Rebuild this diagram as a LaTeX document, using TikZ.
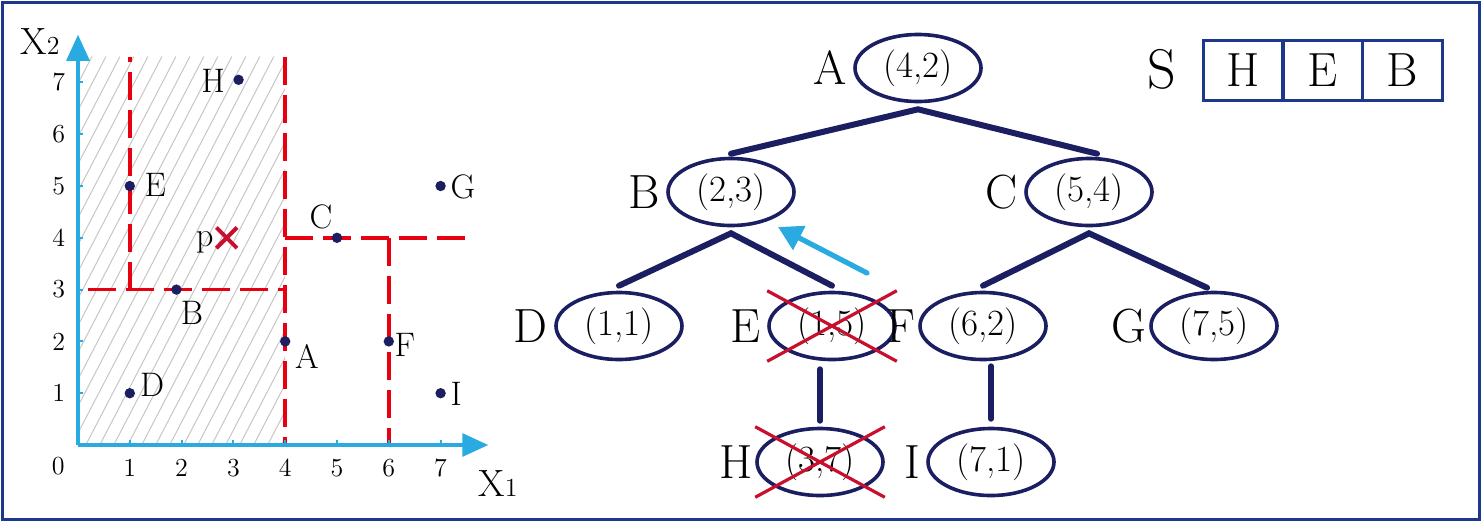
\documentclass[tikz,border=0pt]{standalone}
\usetikzlibrary{shapes.geometric,arrows.meta,calc}
\definecolor{navy}{RGB}{27,30,96}
\definecolor{frameblue}{RGB}{28,55,140}
\definecolor{axcyan}{RGB}{41,171,226}
\definecolor{dashred}{RGB}{230,0,18}
\definecolor{crossred}{RGB}{200,16,46}
\tikzset{
  coordnode/.style={ellipse, draw=navy, line width=1.8pt, minimum width=63pt, minimum height=33.5pt, inner sep=0pt, font=\fontsize{18.5}{18.5}\selectfont},
  treelbl/.style={font=\fontsize{24}{24}\selectfont, inner sep=0pt},
  edge/.style={navy, line width=3pt, line cap=round, line join=miter},
  crossline/.style={crossred, line width=1.6pt},
  reddash/.style={dashred, line width=1.8pt, dash pattern=on 14pt off 5pt},
  axisline/.style={axcyan, line width=1.6pt, -{Triangle[length=13pt,width=11.5pt]}},
  tickline/.style={axcyan, line width=1pt},
  ticklbl/.style={font=\fontsize{13}{13}\selectfont, inner sep=0pt},
  ptlbl/.style={font=\fontsize{17}{17}\selectfont, inner sep=0pt},
  axlbl/.style={font=\fontsize{19}{19}\selectfont, inner sep=0pt},
  dot/.style={circle, fill=navy, inner sep=0pt, minimum size=5.2pt},
  hatchline/.style={gray!45, line width=0.5pt},
  cell/.style={draw=frameblue, line width=1.5pt, minimum width=40pt, minimum height=30pt, inner sep=0pt, font=\fontsize{24}{24}\selectfont},
  bluearrow/.style={axcyan, line width=2.6pt, line cap=round, -{Triangle[length=12pt,width=13pt]}}
}
\begin{document}
\begin{tikzpicture}[x=0.5pt,y=-0.5pt]
\useasboundingbox (0,0) rectangle (1482,521);
\draw[frameblue, line width=1.5pt] (2,2) rectangle (1479,519);

% ---------- plot ----------
\begin{scope}[shift={(78,445)}, x=25.9pt, y=25.9pt]
  \begin{scope}
    \clip (0,0) rectangle (4,7.5);
    \foreach \i in {0,...,32} \draw[hatchline] ({-3.9+\i*0.27},0) -- ++(3.9,7.5);
  \end{scope}
  \draw[reddash] (1,3) -- (1,7.5);
  \draw[reddash] (4,7.5) -- (4,0);
  \draw[reddash] (0.2,3) -- (4,3);
  \draw[reddash] (4,4) -- (7.5,4);
  \draw[reddash] (6,4) -- (6,0);
  \draw[axisline] (0,0) -- (7.92,0);
  \draw[axisline] (0,0) -- (0,7.92);
  \foreach \k in {1,...,7} {
    \draw[tickline] (\k,0) -- (\k,0.1);
    \draw[tickline] (0,\k) -- (0.1,\k);
    \node[ticklbl] (tx\k) at (\k,-0.44) {\k};
    \node[ticklbl] (ty\k) at (-0.37,\k) {\k};
  }
  \node[ticklbl] (t0) at (-0.38,-0.41) {0};
  \node[dot] (pH) at (3.1,7.05) {};
  \node[dot] (pE) at (1,5) {};
  \node[dot] (pG) at (7,5) {};
  \node[dot] (pC) at (5,4) {};
  \node[dot] (pB) at (1.9,3) {};
  \node[dot] (pA) at (4,2) {};
  \node[dot] (pF) at (6,2) {};
  \node[dot] (pD) at (1,1) {};
  \node[dot] (pI) at (7,1) {};
  \draw[crossline, line width=2pt] (2.67,3.8) -- (3.07,4.2);
  \draw[crossline, line width=2pt] (2.67,4.2) -- (3.07,3.8);
  \node[ptlbl] (lH) at (2.61,7.03) {H};
  \node[ptlbl] (lE) at (1.49,5.02) {E};
  \node[ptlbl] (lG) at (7.43,4.98) {G};
  \node[ptlbl] (lC) at (4.69,4.40) {C};
  \node[ptlbl] (lp) at (2.45,3.92) {p};
  \node[ptlbl] (lB) at (2.20,2.55) {B};
  \node[ptlbl] (lA) at (4.42,1.70) {A};
  \node[ptlbl] (lF) at (6.31,1.93) {F};
  \node[ptlbl] (lD) at (1.43,1.16) {D};
  \node[ptlbl] (lI) at (7.30,0.98) {I};
\end{scope}
\node[axlbl] (xtwo) at (40,42) {X{\fontsize{13}{13}\selectfont 2}};
\node[axlbl] (xone) at (498,484) {X{\fontsize{13}{13}\selectfont 1}};

% ---------- tree ----------
\node[coordnode, label={[treelbl, label distance=3pt]left:A}] (nA) at (918,68) {(4,2)};
\node[coordnode, label={[treelbl, label distance=3pt]left:B}] (nB) at (731,192) {(2,3)};
\node[coordnode, label={[treelbl, label distance=3pt]left:C}] (nC) at (1089,192) {(5,4)};
\node[coordnode, label={[treelbl, label distance=3pt]left:D}] (nD) at (619,326) {(1,1)};
\node[coordnode, label={[treelbl, label distance=3pt]left:E}] (nE) at (832,326) {(1,5)};
\node[coordnode, label={[treelbl, label distance=1pt]left:F}] (nF) at (983,326) {(6,2)};
\node[coordnode, label={[treelbl, label distance=1pt]left:G}] (nG) at (1214,326) {(7,5)};
\node[coordnode, label={[treelbl, label distance=1pt]left:H}] (nH) at (820,462) {(3,7)};
\node[coordnode, label={[treelbl, label distance=3pt]left:I}] (nI) at (991,462) {(7,1)};

\coordinate (apA) at ($(nA.south)+(0,6)$);
\coordinate (apB) at ($(nB.south)+(0,6)$);
\coordinate (apC) at ($(nC.south)+(0,6)$);
\draw[edge] ($(nB.north)+(0,-3)$) -- (apA) -- ($(nC.north)+(8,-3)$);
\draw[edge] ($(nD.north)+(0,-5)$) -- (apB) -- ($(nE.north)+(0,-5)$);
\draw[edge] ($(nF.north)+(0,-5)$) -- (apC) -- ($(nG.north)+(-7,-3)$);
\draw[edge] ($(nE.south -| nH.north)+(0,8)$) -- ($(nH.north)+(0,-6)$);
\draw[edge] ($(nF.south -| nI.north)+(0,5)$) -- ($(nI.north)+(0,-8)$);

% crosses
\draw[crossline] (nE.west |- nE.north) -- (nE.east |- nE.south);
\draw[crossline] (nE.west |- nE.south) -- (nE.east |- nE.north);
\draw[crossline] (nH.west |- nH.north) -- (nH.east |- nH.south);
\draw[crossline] (nH.west |- nH.south) -- (nH.east |- nH.north);

% blue arrow
\coordinate (arS) at (867,273);
\coordinate (arE) at (778,227);
\draw[bluearrow] (arS) -- (arE);

% stack
\node[font=\fontsize{28}{28}\selectfont, inner sep=0pt] (S) at (1162,69) {S};
\node[cell] (s1) at (1243,70) {H};
\node[cell] (s2) at (1322.5,70) {E};
\node[cell] (s3) at (1402,70) {B};
\end{tikzpicture}
\end{document}
